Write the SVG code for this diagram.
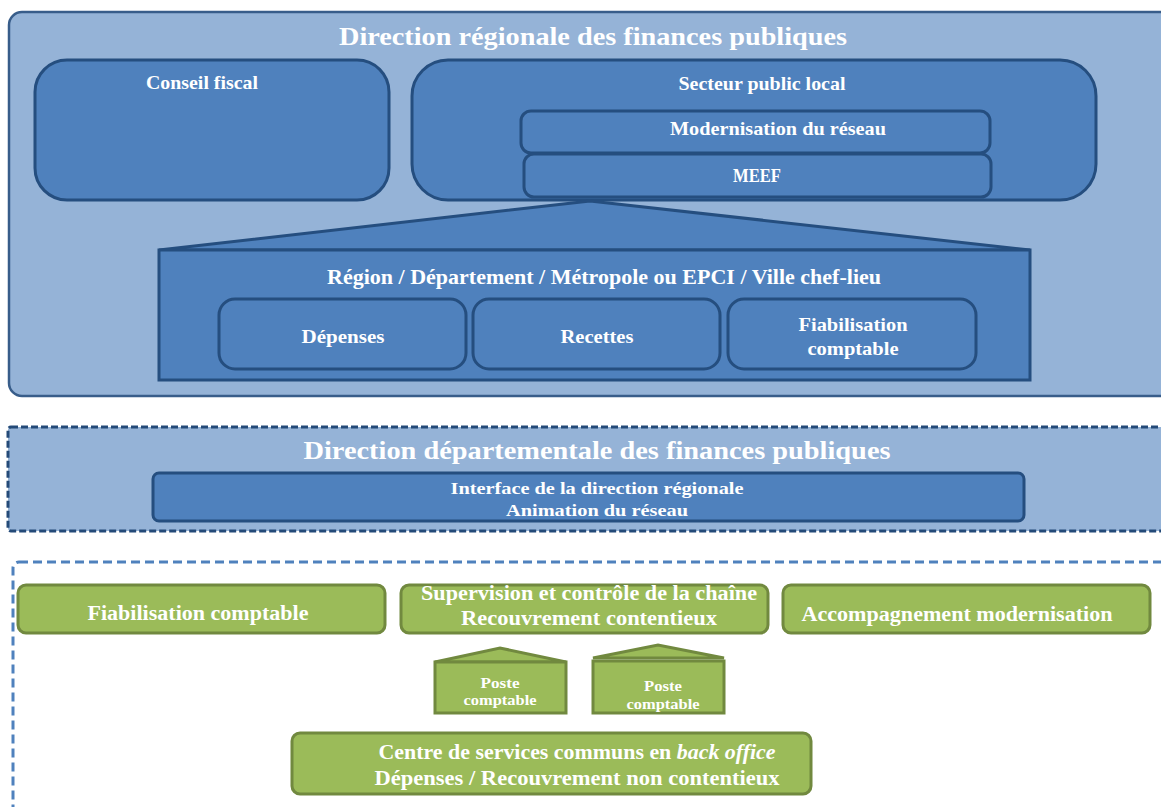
<svg xmlns="http://www.w3.org/2000/svg" width="1161" height="807" viewBox="0 0 1161 807">
  <style>
    text { font-family: "Liberation Serif", "DejaVu Serif", serif; font-weight: bold; fill: #ffffff; text-anchor: middle; }
    .outer { fill: #95b3d7; stroke: #385d8a; stroke-width: 2.5; }
    .blue { fill: #4f81bd; stroke: #254e7f; stroke-width: 3; }
    .green { fill: #9bbb59; stroke: #71893f; stroke-width: 3; }
    .dash-dark { fill: #95b3d7; stroke: #244a78; stroke-width: 3; stroke-dasharray: 7 3; }
    .dash-light { fill: none; stroke: #4f81bd; stroke-width: 3; stroke-dasharray: 9 5; }
  </style>

  <!-- Direction régionale -->
  <g id="drfip">
    <rect class="outer" x="9" y="12" width="1165" height="384" rx="13"/>
    <text x="593" y="45" font-size="26" textLength="508" lengthAdjust="spacingAndGlyphs">Direction régionale des finances publiques</text>
  </g>

  <g id="conseil-fiscal">
    <rect class="blue" x="35" y="60" width="354" height="140" rx="32"/>
    <text x="202" y="89" font-size="19" textLength="112" lengthAdjust="spacingAndGlyphs">Conseil fiscal</text>
  </g>

  <g id="secteur-public-local">
    <rect class="blue" x="412" y="60" width="684" height="140" rx="36"/>
    <text x="762" y="90" font-size="19" textLength="167" lengthAdjust="spacingAndGlyphs">Secteur public local</text>
  </g>

  <g id="modernisation-reseau">
    <rect class="blue" x="521" y="111" width="469" height="42" rx="10"/>
    <text x="778" y="135" font-size="19" textLength="216" lengthAdjust="spacingAndGlyphs">Modernisation du réseau</text>
  </g>

  <g id="meef">
    <rect class="blue" x="524" y="154" width="467" height="43" rx="10"/>
    <text x="757" y="182" font-size="19" textLength="48" lengthAdjust="spacingAndGlyphs">MEEF</text>
  </g>

  <g id="collectivites">
    <polygon class="blue" points="159,250 590,201 1030,250"/>
    <rect class="blue" x="159" y="250" width="871" height="130"/>
    <text x="604" y="284" font-size="21" textLength="554" lengthAdjust="spacingAndGlyphs">Région / Département / Métropole ou EPCI / Ville chef-lieu</text>
  </g>

  <g id="depenses">
    <rect class="blue" x="219" y="299" width="247" height="70" rx="16"/>
    <text x="343" y="343" font-size="19" textLength="83" lengthAdjust="spacingAndGlyphs">Dépenses</text>
  </g>

  <g id="recettes">
    <rect class="blue" x="473" y="299" width="247" height="70" rx="16"/>
    <text x="597" y="343" font-size="19" textLength="73" lengthAdjust="spacingAndGlyphs">Recettes</text>
  </g>

  <g id="fiabilisation-regionale">
    <rect class="blue" x="728" y="299" width="248" height="70" rx="16"/>
    <text x="853" y="331" font-size="19" textLength="109" lengthAdjust="spacingAndGlyphs">Fiabilisation</text>
    <text x="853" y="355" font-size="19" textLength="91" lengthAdjust="spacingAndGlyphs">comptable</text>
  </g>

  <!-- Direction départementale -->
  <g id="ddfip">
    <rect class="dash-dark" x="8" y="427" width="1165" height="104" rx="3"/>
    <text x="597" y="459" font-size="26" textLength="587" lengthAdjust="spacingAndGlyphs">Direction départementale des finances publiques</text>
  </g>

  <g id="interface">
    <rect class="blue" x="153" y="473" width="871" height="48" rx="6"/>
    <text x="597" y="494" font-size="17" textLength="293" lengthAdjust="spacingAndGlyphs">Interface de la direction régionale</text>
    <text x="597" y="516" font-size="17" textLength="182" lengthAdjust="spacingAndGlyphs">Animation du réseau</text>
  </g>

  <!-- Réseau local -->
  <g id="reseau-local">
    <rect class="dash-light" x="13" y="562" width="1165" height="270" rx="6"/>
  </g>

  <g id="fiabilisation-comptable">
    <rect class="green" x="18" y="585" width="367" height="48" rx="8"/>
    <text x="198" y="620" font-size="20" textLength="221" lengthAdjust="spacingAndGlyphs">Fiabilisation comptable</text>
  </g>

  <g id="supervision">
    <rect class="green" x="401" y="585" width="367" height="48" rx="8"/>
    <text x="589" y="600" font-size="20" textLength="336" lengthAdjust="spacingAndGlyphs">Supervision et contrôle de la chaîne</text>
    <text x="589" y="625" font-size="20" textLength="256" lengthAdjust="spacingAndGlyphs">Recouvrement contentieux</text>
  </g>

  <g id="accompagnement">
    <rect class="green" x="783" y="585" width="367" height="48" rx="8"/>
    <text x="957" y="621" font-size="20" textLength="311" lengthAdjust="spacingAndGlyphs">Accompagnement modernisation</text>
  </g>

  <g id="poste-comptable-1">
    <polygon class="green" points="435,662 500,648 566,662"/>
    <rect class="green" x="435" y="662" width="131" height="51"/>
    <text x="500" y="688" font-size="14" textLength="39" lengthAdjust="spacingAndGlyphs">Poste</text>
    <text x="500" y="705" font-size="14" textLength="73" lengthAdjust="spacingAndGlyphs">comptable</text>
  </g>

  <g id="poste-comptable-2">
    <polygon class="green" points="593,658 658,645 724,658"/>
    <rect class="green" x="593" y="661" width="131" height="52"/>
    <text x="663" y="691" font-size="14" textLength="38" lengthAdjust="spacingAndGlyphs">Poste</text>
    <text x="663" y="709" font-size="14" textLength="73" lengthAdjust="spacingAndGlyphs">comptable</text>
  </g>

  <g id="centre-services-communs">
    <rect class="green" x="292" y="733" width="519" height="61" rx="8"/>
    <text x="577" y="759" font-size="20" textLength="397" lengthAdjust="spacingAndGlyphs">Centre de services communs en <tspan font-style="italic">back office</tspan></text>
    <text x="577" y="785" font-size="20" textLength="405" lengthAdjust="spacingAndGlyphs">Dépenses / Recouvrement non contentieux</text>
  </g>

  <!-- no connectors in this chart -->
  <g id="connectors"/>
</svg>
